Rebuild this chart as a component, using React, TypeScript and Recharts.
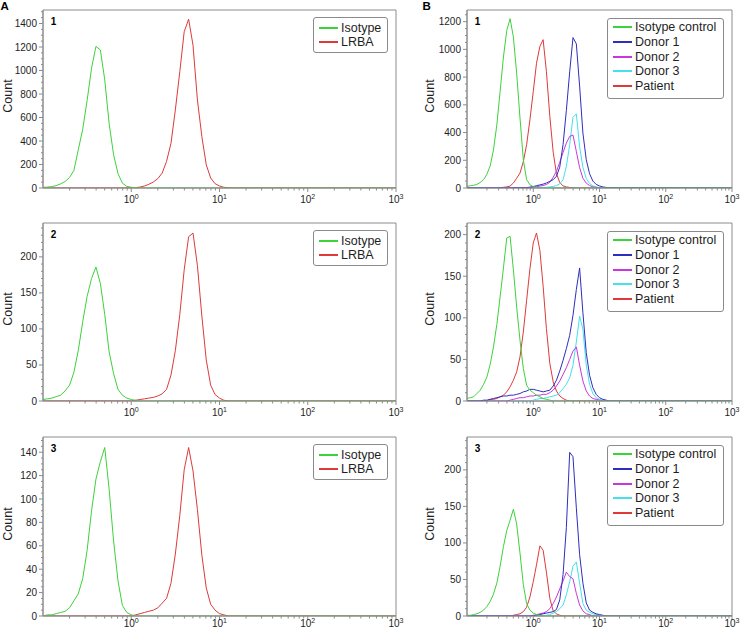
import React from 'react';
import {LineChart, Line, XAxis, YAxis, ReferenceArea} from 'recharts';

const FONT = '"Liberation Sans", Arial, sans-serif';
const AXIS = '#8c8c8c';
const INK = '#1e1e1e';

const GREEN = '#3cd23c';
const RED = '#de3a3a';
const BLUE = '#2e2ebe';
const MAGENTA = '#c936de';
const CYAN = '#45e0ee';

// fluorescence intensity of each histogram bin (log spaced)
const bins = [
  0.1, 0.112, 0.126, 0.141, 0.158, 0.178, 0.2, 0.224, 0.251, 0.282,
  0.316, 0.355, 0.398, 0.447, 0.501, 0.562, 0.631, 0.708, 0.794, 0.891,
  1, 1.12, 1.26, 1.41, 1.58, 1.78, 2, 2.24, 2.51, 2.82,
  3.16, 3.55, 3.98, 4.47, 5.01, 5.62, 6.31, 7.08, 7.94, 8.91,
  10, 11.2, 12.6, 14.1, 1000,
];

// panel A: cell counts per bin
const a1Isotype = [
  5, 8, 12, 20, 35, 55, 90, 150, 325, 500,
  745, 1020, 1205, 1175, 920, 546, 283, 122, 41, 14,
  6, 3, 1, 0, 0, 0, 0, 0, 0, 0,
  0, 0, 0, 0, 0, 0, 0, 0, 0, 0,
  0, 0, 0, 0, 0,
];
const a1Lrba = [
  0, 0, 0, 0, 0, 0, 0, 0, 0, 0,
  0, 0, 0, 0, 0, 0, 0, 0, 0, 1,
  2, 3, 8, 17, 31, 51, 80, 127, 226, 380,
  665, 990, 1330, 1437, 1216, 750, 438, 198, 85, 37,
  17, 6, 2, 0, 0,
];
const a2Isotype = [
  2, 3, 4, 6, 8, 14, 22, 40, 70, 110,
  145, 170, 186, 163, 120, 68, 38, 16, 8, 4,
  2, 1, 0, 0, 0, 0, 0, 0, 0, 0,
  0, 0, 0, 0, 0, 0, 0, 0, 0, 0,
  0, 0, 0, 0, 0,
];
const a2Lrba = [
  0, 0, 0, 0, 0, 0, 0, 0, 0, 0,
  0, 0, 0, 0, 0, 0, 0, 0, 0, 0,
  0, 1, 2, 3, 4, 5, 7, 10, 16, 36,
  70, 120, 182, 228, 233, 188, 118, 57, 22, 9,
  4, 1, 0, 0, 0,
];
const a3Isotype = [
  0, 1, 1, 2, 3, 4, 7, 13, 19, 32,
  56, 90, 117, 132, 144, 108, 64, 30, 9, 3,
  1, 0, 0, 0, 0, 0, 0, 0, 0, 0,
  0, 0, 0, 0, 0, 0, 0, 0, 0, 0,
  0, 0, 0, 0, 0,
];
const a3Lrba = [
  0, 0, 0, 0, 0, 0, 0, 0, 0, 0,
  0, 0, 0, 0, 0, 0, 0, 0, 0, 0,
  0, 1, 2, 3, 4, 5, 7, 11, 15, 28,
  53, 86, 125, 144, 124, 91, 52, 24, 10, 5,
  2, 1, 0, 0, 0,
];

// panel B: cell counts per bin
const b1Isotype = [
  12, 16, 20, 25, 40, 60, 100, 160, 275, 455,
  696, 945, 1135, 1222, 1090, 828, 504, 204, 60, 24,
  10, 5, 2, 0, 0, 0, 0, 0, 0, 0,
  0, 0, 0, 0, 0, 0, 0, 0, 0, 0,
  0, 0, 0, 0, 0,
];
const b1Donor1 = [
  0, 0, 0, 0, 0, 0, 0, 0, 0, 0,
  0, 0, 1, 1, 2, 2, 2, 3, 3, 6,
  10, 17, 22, 28, 36, 48, 60, 85, 150, 314,
  559, 838, 1085, 1040, 735, 396, 204, 103, 50, 26,
  15, 8, 4, 2, 0,
];
const b1Donor2 = [
  0, 0, 0, 0, 0, 0, 0, 0, 0, 0,
  0, 0, 0, 0, 0, 1, 1, 2, 3, 4,
  6, 10, 14, 18, 25, 41, 78, 120, 185, 257,
  324, 372, 382, 264, 147, 70, 35, 18, 8, 4,
  2, 0, 0, 0, 0,
];
const b1Donor3 = [
  0, 0, 0, 0, 0, 0, 0, 0, 0, 0,
  0, 0, 0, 0, 0, 0, 0, 0, 0, 0,
  1, 2, 3, 4, 5, 8, 12, 17, 30, 60,
  156, 312, 510, 535, 297, 150, 68, 33, 15, 8,
  4, 2, 0, 0, 0,
];
const b1Patient = [
  0, 0, 0, 0, 0, 0, 0, 0, 0, 0,
  3, 5, 8, 14, 36, 70, 108, 190, 312, 492,
  696, 900, 1022, 1070, 840, 516, 258, 104, 40, 15,
  8, 4, 2, 0, 0, 0, 0, 0, 0, 0,
  0, 0, 0, 0, 0,
];
const b2Isotype = [
  3, 4, 5, 9, 13, 20, 29, 44, 65, 92,
  125, 160, 196, 198, 158, 113, 73, 39, 19, 13,
  10, 7, 5, 3, 2, 1, 0, 0, 0, 0,
  0, 0, 0, 0, 0, 0, 0, 0, 0, 0,
  0, 0, 0, 0, 0,
];
const b2Donor1 = [
  0, 0, 0, 0, 0, 1, 1, 2, 3, 4,
  5, 6, 6, 7, 7, 8, 9, 11, 12, 14,
  14, 13, 12, 11, 12, 13, 18, 25, 36, 49,
  63, 79, 103, 134, 160, 106, 58, 31, 16, 8,
  4, 2, 1, 0, 0,
];
const b2Donor2 = [
  0, 0, 0, 0, 0, 0, 0, 0, 0, 0,
  0, 0, 0, 1, 2, 3, 4, 4, 5, 6,
  6, 7, 7, 8, 8, 10, 13, 18, 24, 32,
  40, 50, 60, 65, 43, 24, 12, 6, 3, 2,
  1, 0, 0, 0, 0,
];
const b2Donor3 = [
  0, 0, 0, 0, 0, 0, 0, 0, 0, 0,
  0, 0, 0, 0, 0, 0, 0, 0, 0, 0,
  1, 2, 3, 3, 4, 5, 6, 7, 10, 15,
  20, 28, 43, 71, 102, 86, 43, 20, 9, 4,
  2, 1, 0, 0, 0,
];
const b2Patient = [
  0, 0, 0, 0, 0, 0, 0, 2, 2, 3,
  5, 7, 11, 17, 25, 35, 53, 83, 121, 159,
  190, 202, 181, 138, 87, 45, 23, 12, 6, 3,
  1, 0, 0, 0, 0, 0, 0, 0, 0, 0,
  0, 0, 0, 0, 0,
];
const b3Isotype = [
  1, 1, 2, 3, 5, 8, 13, 20, 30, 45,
  68, 95, 117, 131, 146, 126, 86, 43, 17, 8,
  4, 2, 1, 0, 0, 0, 0, 0, 0, 0,
  0, 0, 0, 0, 0, 0, 0, 0, 0, 0,
  0, 0, 0, 0, 0,
];
const b3Donor1 = [
  0, 0, 0, 0, 0, 0, 0, 0, 0, 0,
  0, 0, 0, 0, 0, 0, 0, 0, 0, 0,
  1, 1, 2, 3, 4, 5, 6, 9, 22, 57,
  121, 224, 218, 148, 84, 45, 18, 8, 5, 3,
  2, 1, 0, 0, 0,
];
const b3Donor2 = [
  0, 0, 0, 0, 0, 0, 0, 0, 0, 0,
  0, 0, 0, 0, 0, 0, 0, 0, 0, 0,
  0, 2, 3, 4, 6, 10, 17, 26, 37, 48,
  60, 54, 51, 31, 15, 7, 3, 2, 0, 0,
  0, 0, 0, 0, 0,
];
const b3Donor3 = [
  0, 0, 0, 0, 0, 0, 0, 0, 0, 0,
  0, 0, 0, 0, 0, 0, 0, 0, 0, 0,
  0, 0, 0, 0, 1, 2, 4, 6, 10, 15,
  29, 47, 68, 74, 45, 17, 8, 5, 3, 2,
  1, 0, 0, 0, 0,
];
const b3Patient = [
  0, 0, 0, 0, 0, 0, 0, 0, 0, 0,
  0, 0, 0, 0, 1, 2, 3, 6, 12, 26,
  47, 70, 96, 90, 60, 24, 7, 3, 1, 0,
  0, 0, 0, 0, 0, 0, 0, 0, 0, 0,
  0, 0, 0, 0, 0,
];

// log axis ticks (decades labelled, the rest minor)
const xTicks = [
  0.2, 0.3, 0.4, 0.5, 0.6, 0.7, 0.8, 0.9, 1,
  2, 3, 4, 5, 6, 7, 8, 9, 10,
  20, 30, 40, 50, 60, 70, 80, 90, 100,
  200, 300, 400, 500, 600, 700, 800, 900, 1000,
];
const xDecades = [1, 10, 100, 1000];

const a1YTicks = [0, 200, 400, 600, 800, 1000, 1200, 1400];
const a2YTicks = [0, 50, 100, 150, 200];
const a3YTicks = [0, 20, 40, 60, 80, 100, 120, 140];
const b1YTicks = [0, 200, 400, 600, 800, 1000, 1200];
const b2YTicks = [0, 50, 100, 150, 200];
const b3YTicks = [0, 50, 100, 150, 200];

const aNames = ['Isotype', 'LRBA'];
const bNames = ['Isotype control', 'Donor 1', 'Donor 2', 'Donor 3', 'Patient'];

type Series = {name: string; color: string; values: number[]};

const makeXTick = (labelDy: number) => (props: any) => {
  const {x, y, payload} = props;
  const v: number = payload.value;
  const major = xDecades.includes(v);
  return (
    <g>
      <line x1={x} x2={x} y1={y} y2={y + (major ? 4 : 2.5)} stroke={AXIS} />
      {major && (
        <text x={x} y={y + labelDy} textAnchor="middle" fontSize={10} fontFamily={FONT} fill={INK}>
          10
          <tspan dy={-4} fontSize={7}>
            {Math.round(Math.log10(v))}
          </tspan>
        </text>
      )}
    </g>
  );
};

const makeYTick = (majors: number[]) => (props: any) => {
  const {x, y, payload} = props;
  const major = majors.includes(payload.value);
  return (
    <g>
      <line x1={x - (major ? 4 : 2)} x2={x} y1={y} y2={y} stroke={AXIS} />
      {major && (
        <text x={x - 6} y={y} dy="0.35em" textAnchor="end" fontSize={10} fontFamily={FONT} fill={INK}>
          {payload.value}
        </text>
      )}
    </g>
  );
};

interface PanelProps {
  side: 'A' | 'B';
  num: string;
  plotTop: number;
  plotHeight: number;
  labelDy: number;
  yMax: number;
  yMajor: number[];
  yMinorStep: number;
  series: Series[];
}

const MARGIN_TOP = 8;
const X_AXIS_H = 22;

const Panel: React.FC<PanelProps> = ({side, num, plotTop, plotHeight, labelDy, yMax, yMajor, yMinorStep, series}) => {
  const isA = side === 'A';
  const left = isA ? 0 : 415;
  const yAxisW = isA ? 43 : 52;
  const plotW = isA ? 353 : 265;
  const marginRight = isA ? 12 : 8;
  const width = yAxisW + plotW + marginRight;
  const height = MARGIN_TOP + plotHeight + X_AXIS_H;

  const rows = bins.map((x, i) => {
    const row: Record<string, number> = {x};
    series.forEach((s, j) => {
      row[`s${j}`] = s.values[i];
    });
    return row;
  });

  const yTicks: number[] = [];
  for (let v = 0; v <= yMax; v += yMinorStep) yTicks.push(v);

  // draw order: last legend entry first, isotype on top
  const drawOrder = series.map((_, j) => j).reverse();

  const legendW = isA ? 75 : 117;
  const rowH = isA ? 14 : 14.7;
  const legendTop = MARGIN_TOP + (isA ? 7.3 : 8.3);

  return (
    <div style={{position: 'absolute', left, top: plotTop - MARGIN_TOP, width, height}}>
      <LineChart width={width} height={height} data={rows} margin={{top: MARGIN_TOP, right: marginRight, bottom: 0, left: 0}}>
        <XAxis
          dataKey="x"
          type="number"
          scale="log"
          domain={[0.1, 1000]}
          allowDataOverflow
          ticks={xTicks}
          interval={0}
          tickSize={0}
          tickMargin={0}
          tickLine={false}
          height={X_AXIS_H}
          axisLine={{stroke: AXIS}}
          tick={makeXTick(labelDy)}
        />
        <YAxis
          type="number"
          domain={[0, yMax]}
          allowDataOverflow
          ticks={yTicks}
          interval={0}
          tickSize={0}
          tickMargin={0}
          tickLine={false}
          width={yAxisW}
          axisLine={{stroke: AXIS}}
          tick={makeYTick(yMajor)}
        />
        <ReferenceArea x1={0.1} x2={1000} y1={0} y2={yMax} fill="none" stroke={AXIS} strokeWidth={1} />
        {drawOrder.map((j) => (
          <Line
            key={series[j].name}
            dataKey={`s${j}`}
            name={series[j].name}
            type="linear"
            stroke={series[j].color}
            strokeWidth={1}
            dot={false}
            activeDot={false}
            isAnimationActive={false}
          />
        ))}
      </LineChart>
      <div
        style={{
          position: 'absolute',
          left: isA ? 7.7 : 15,
          top: MARGIN_TOP + plotHeight / 2 - 3,
          transform: 'translate(-50%, -50%) rotate(-90deg)',
          fontSize: 12.5,
          lineHeight: '12px',
          color: INK,
          whiteSpace: 'nowrap',
        }}>
        Count
      </div>
      <div
        style={{
          position: 'absolute',
          left: yAxisW + 7.7,
          top: MARGIN_TOP + 7.2,
          fontSize: 10,
          lineHeight: '10px',
          fontWeight: 700,
          color: '#000',
        }}>
        {num}
      </div>
      <div
        style={{
          position: 'absolute',
          left: yAxisW + plotW - 8.5 - legendW,
          top: legendTop,
          width: legendW,
          boxSizing: 'border-box',
          border: '1px solid #8a8a8a',
          borderRadius: 3,
          background: '#fff',
          padding: isA ? '2.4px 0 3px 5px' : '0.7px 0 5px 5px',
        }}>
        {series.map((s) => (
          <div key={s.name} style={{display: 'flex', alignItems: 'center', height: rowH}}>
            <span style={{display: 'block', width: 19, height: 2, background: s.color, marginRight: 3.5, flex: 'none'}} />
            <span
              style={{
                display: 'block',
                fontSize: 12.5,
                lineHeight: '14px',
                color: INK,
                whiteSpace: 'nowrap',
              }}>
              {s.name}
            </span>
          </div>
        ))}
      </div>
    </div>
  );
};

const aSeries = (iso: number[], lrba: number[]): Series[] => [
  {name: aNames[0], color: GREEN, values: iso},
  {name: aNames[1], color: RED, values: lrba},
];

const bSeries = (iso: number[], d1: number[], d2: number[], d3: number[], pt: number[]): Series[] => [
  {name: bNames[0], color: GREEN, values: iso},
  {name: bNames[1], color: BLUE, values: d1},
  {name: bNames[2], color: MAGENTA, values: d2},
  {name: bNames[3], color: CYAN, values: d3},
  {name: bNames[4], color: RED, values: pt},
];

const letterStyle: React.CSSProperties = {
  position: 'absolute',
  top: 0,
  fontSize: 11.5,
  lineHeight: 'normal',
  fontWeight: 700,
};

export default function App() {
  return (
    <div
      style={{
        position: 'absolute',
        left: 0,
        top: 0,
        width: 740,
        height: 630,
        background: '#fff',
        fontFamily: FONT,
        overflow: 'hidden',
      }}>
      <div style={{...letterStyle, left: 0.5}}>A</div>
      <div style={{...letterStyle, left: 422.5}}>B</div>

      <Panel side="A" num="1" plotTop={10} plotHeight={178} labelDy={15} yMax={1515} yMajor={a1YTicks} yMinorStep={50} series={aSeries(a1Isotype, a1Lrba)} />
      <Panel side="A" num="2" plotTop={223} plotHeight={178} labelDy={14.5} yMax={247} yMajor={a2YTicks} yMinorStep={10} series={aSeries(a2Isotype, a2Lrba)} />
      <Panel side="A" num="3" plotTop={437} plotHeight={179} labelDy={11} yMax={153} yMajor={a3YTicks} yMinorStep={5} series={aSeries(a3Isotype, a3Lrba)} />

      <Panel
        side="B"
        num="1"
        plotTop={10}
        plotHeight={178}
        labelDy={15}
        yMax={1284}
        yMajor={b1YTicks}
        yMinorStep={50}
        series={bSeries(b1Isotype, b1Donor1, b1Donor2, b1Donor3, b1Patient)}
      />
      <Panel
        side="B"
        num="2"
        plotTop={223}
        plotHeight={178}
        labelDy={14.5}
        yMax={214}
        yMajor={b2YTicks}
        yMinorStep={10}
        series={bSeries(b2Isotype, b2Donor1, b2Donor2, b2Donor3, b2Patient)}
      />
      <Panel
        side="B"
        num="3"
        plotTop={437}
        plotHeight={179}
        labelDy={11}
        yMax={245}
        yMajor={b3YTicks}
        yMinorStep={10}
        series={bSeries(b3Isotype, b3Donor1, b3Donor2, b3Donor3, b3Patient)}
      />
    </div>
  );
}
